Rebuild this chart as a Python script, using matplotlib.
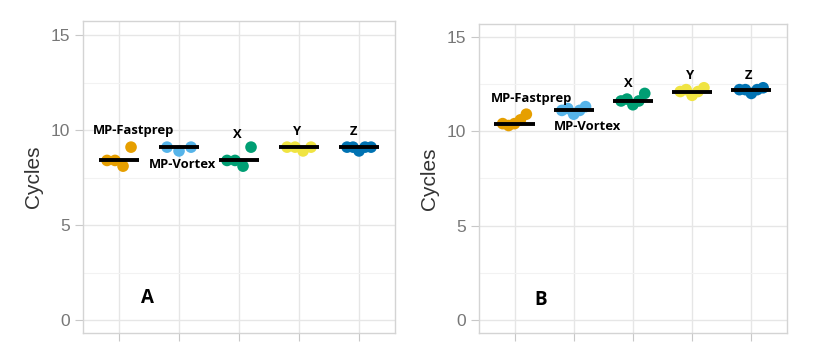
import numpy as np
import matplotlib.pyplot as plt

# groups and colours
groups = ["MP-Fastprep", "MP-Vortex", "X", "Y", "Z"]
colors = ["#E69F00", "#56B4E9", "#009E73", "#F0E442", "#0072B2"]

# panel A cycle values (left to right within each group)
a_fastprep = [8.4, 8.4, 8.1, 9.1]
a_vortex = [9.1, 8.9, 9.1]
a_x = [8.4, 8.4, 8.1, 9.1]
a_y = [9.1, 9.1, 8.9, 9.1]
a_z = [9.1, 9.1, 8.9, 9.1, 9.1]

# panel B cycle values
b_fastprep = [10.4, 10.3, 10.4, 10.6, 10.9]
b_vortex = [11.1, 11.2, 10.9, 11.1, 11.3]
b_x = [11.6, 11.7, 11.4, 11.6, 12.0]
b_y = [12.1, 12.2, 11.9, 12.1, 12.3]
b_z = [12.2, 12.2, 12.0, 12.2, 12.3]

panel_a = [a_fastprep, a_vortex, a_x, a_y, a_z]
panel_b = [b_fastprep, b_vortex, b_x, b_y, b_z]

yticks = [0, 5, 10, 15]

plt.rcParams["font.family"] = ["Liberation Sans", "DejaVu Sans"]

fig = plt.figure(figsize=(8.32, 3.55), dpi=100)
axA = fig.add_axes([0.0998, 0.062, 0.375, 0.879])
axB = fig.add_axes([0.5757, 0.062, 0.370, 0.870])

lbl_font = dict(family=["Open Sans", "DejaVu Sans"], fontweight="bold", color="black")


def draw(ax, data, ylim):
    ax.set_xlim(0.4, 5.6)
    ax.set_ylim(*ylim)
    ax.set_yticks(yticks)
    ax.set_yticks([2.5, 7.5, 12.5], minor=True)
    ax.set_xticks(range(1, 6))
    ax.set_xticklabels([])
    ax.grid(True, which="major", color="#e6e6e6", lw=1.0)
    ax.grid(True, which="minor", axis="y", color="#f2f2f2", lw=0.8)
    ax.set_axisbelow(True)
    for s in ax.spines.values():
        s.set_color("#d4d4d4")
        s.set_linewidth(1.0)
    ax.tick_params(axis="both", which="major", color="#c8c8c8", length=6,
                   labelsize=12.5, labelcolor="#777777")
    ax.tick_params(axis="y", which="minor", length=0)
    ax.set_ylabel("Cycles", fontsize=15, color="#333333", labelpad=5)
    for i, vals in enumerate(data):
        xpos = i + 1
        n = len(vals)
        offs = np.linspace(-0.2, 0.2, n)
        ax.scatter(xpos + offs, vals, s=70, color=colors[i], edgecolor="none", zorder=3)
        med = np.median(vals)
        ax.plot([xpos - 0.34, xpos + 0.34], [med, med], color="black", lw=2.8,
                solid_capstyle="butt", zorder=4)


draw(axA, panel_a, (-0.68, 15.74))
draw(axB, panel_b, (-0.69, 15.67))

fs = 9.4
# annotations panel A
axA.text(1.25, 9.95, "MP-Fastprep", ha="center", va="center", fontsize=fs, **lbl_font)
axA.text(2.05, 8.2, "MP-Vortex", ha="center", va="center", fontsize=fs, **lbl_font)
axA.text(2.97, 9.74, "X", ha="center", va="center", fontsize=fs, **lbl_font)
axA.text(3.97, 9.9, "Y", ha="center", va="center", fontsize=fs, **lbl_font)
axA.text(4.9, 9.9, "Z", ha="center", va="center", fontsize=fs, **lbl_font)
axA.text(1.48, 1.16, "A", ha="center", va="center", fontsize=13.5, **lbl_font)

# annotations panel B
axB.text(1.29, 11.75, "MP-Fastprep", ha="center", va="center", fontsize=fs, **lbl_font)
axB.text(2.23, 10.26, "MP-Vortex", ha="center", va="center", fontsize=fs, **lbl_font)
axB.text(2.93, 12.54, "X", ha="center", va="center", fontsize=fs, **lbl_font)
axB.text(3.96, 12.96, "Y", ha="center", va="center", fontsize=fs, **lbl_font)
axB.text(4.95, 12.96, "Z", ha="center", va="center", fontsize=fs, **lbl_font)
axB.text(1.44, 1.06, "B", ha="center", va="center", fontsize=13.5, **lbl_font)

fig.savefig("out.png", dpi=100)
